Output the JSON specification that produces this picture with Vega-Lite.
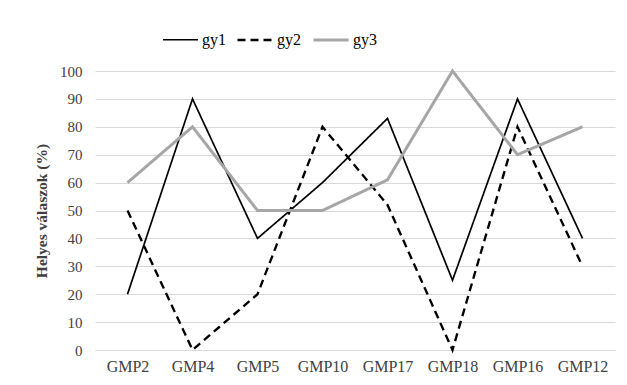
{
  "$schema": "https://vega.github.io/schema/vega-lite/v6.json",
  "width": 520,
  "height": 279,
  "autosize": "none",
  "padding": {"left": 95, "top": 71, "right": 12, "bottom": 35},
  "background": "white",
  "data": {
    "values": [
      {"gmp": "GMP2", "series": "gy1", "value": 20},
      {"gmp": "GMP4", "series": "gy1", "value": 90},
      {"gmp": "GMP5", "series": "gy1", "value": 40},
      {"gmp": "GMP10", "series": "gy1", "value": 60},
      {"gmp": "GMP17", "series": "gy1", "value": 83},
      {"gmp": "GMP18", "series": "gy1", "value": 25},
      {"gmp": "GMP16", "series": "gy1", "value": 90},
      {"gmp": "GMP12", "series": "gy1", "value": 40},
      {"gmp": "GMP2", "series": "gy2", "value": 50},
      {"gmp": "GMP4", "series": "gy2", "value": 0},
      {"gmp": "GMP5", "series": "gy2", "value": 20},
      {"gmp": "GMP10", "series": "gy2", "value": 80},
      {"gmp": "GMP17", "series": "gy2", "value": 52},
      {"gmp": "GMP18", "series": "gy2", "value": 0},
      {"gmp": "GMP16", "series": "gy2", "value": 80},
      {"gmp": "GMP12", "series": "gy2", "value": 30},
      {"gmp": "GMP2", "series": "gy3", "value": 60},
      {"gmp": "GMP4", "series": "gy3", "value": 80},
      {"gmp": "GMP5", "series": "gy3", "value": 50},
      {"gmp": "GMP10", "series": "gy3", "value": 50},
      {"gmp": "GMP17", "series": "gy3", "value": 61},
      {"gmp": "GMP18", "series": "gy3", "value": 100},
      {"gmp": "GMP16", "series": "gy3", "value": 70},
      {"gmp": "GMP12", "series": "gy3", "value": 80}
    ]
  },
  "mark": {"type": "line", "strokeJoin": "miter", "strokeCap": "butt"},
  "encoding": {
    "x": {
      "field": "gmp",
      "type": "nominal",
      "sort": ["GMP2", "GMP4", "GMP5", "GMP10", "GMP17", "GMP18", "GMP16", "GMP12"],
      "scale": {"paddingInner": 1, "paddingOuter": 0.5},
      "axis": {"title": null, "labelAngle": 0, "labelPadding": 8, "labelFontSize": 16, "ticks": false, "domain": true, "domainColor": "#d9d9d9", "grid": false}
    },
    "y": {
      "field": "value",
      "type": "quantitative",
      "scale": {"domain": [0, 100], "nice": false},
      "axis": {"title": "Helyes válaszok (%)", "values": [0, 10, 20, 30, 40, 50, 60, 70, 80, 90, 100], "ticks": false, "domain": false, "labelFontSize": 15, "labelPadding": 13, "titlePadding": 10, "grid": true, "gridColor": "#d9d9d9", "titleFontWeight": "bold", "titleFontSize": 15.5, "titleColor": "#404040"}
    },
    "color": {
      "field": "series",
      "type": "nominal",
      "scale": {"domain": ["gy1", "gy2", "gy3"], "range": ["#000000", "#000000", "#a6a6a6"]},
      "legend": {"title": null, "orient": "none", "legendX": 67, "legendY": -50, "direction": "horizontal"}
    },
    "strokeDash": {
      "field": "series",
      "type": "nominal",
      "scale": {"domain": ["gy1", "gy2", "gy3"], "range": [[1, 0], [8, 5], [1, 0]]},
      "legend": {"title": null, "orient": "none", "legendX": 67, "legendY": -50, "direction": "horizontal"}
    },
    "strokeWidth": {
      "field": "series",
      "type": "nominal",
      "scale": {"domain": ["gy1", "gy2", "gy3"], "range": [1.7, 3, 3]},
      "legend": {"title": null, "orient": "none", "legendX": 67, "legendY": -50, "direction": "horizontal"}
    }
  },
  "config": {
    "font": "Liberation Serif",
    "view": {"stroke": null},
    "axis": {"labelFont": "Liberation Serif", "labelColor": "#404040", "titleFont": "Liberation Serif"},
    "legend": {"labelFont": "Liberation Serif", "labelFontSize": 16, "labelColor": "#000000", "symbolType": "stroke", "symbolSize": 1225, "labelOffset": 3, "columnPadding": 6}
  }
}
